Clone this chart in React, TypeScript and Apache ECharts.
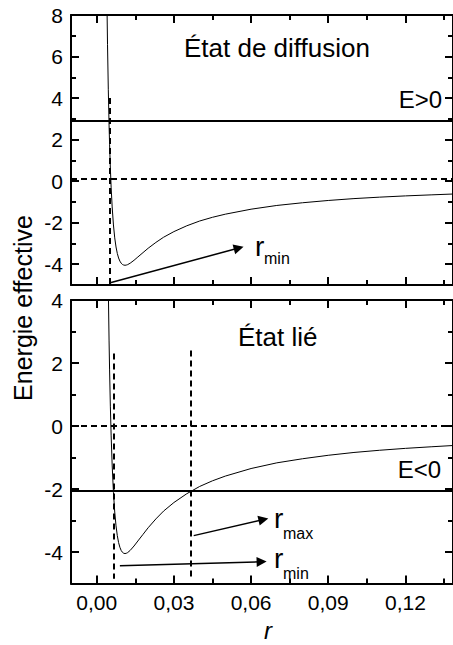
import React, { useEffect, useRef } from "react";
import * as echarts from "echarts";

// ---- data ----
const rValues = [0.0040, 0.0042, 0.0045, 0.0048, 0.0050, 0.0053, 0.0056, 0.0060, 0.0065, 0.0070, 0.0075, 0.0080, 0.0085, 0.0090, 0.0095, 0.0100, 0.0105, 0.0110, 0.0115, 0.0120, 0.0130, 0.0145, 0.016, 0.018, 0.020, 0.023, 0.026, 0.030, 0.035, 0.040, 0.045, 0.050, 0.060, 0.070, 0.080, 0.090, 0.100, 0.110, 0.120, 0.130, 0.1385];
const energyValues = [8.35, 6.57, 4.40, 2.70, 1.78, 0.63, -0.29, -1.24, -2.11, -2.73, -3.17, -3.48, -3.70, -3.85, -3.95, -4.01, -4.04, -4.05, -4.04, -4.02, -3.95, -3.81, -3.65, -3.44, -3.23, -2.95, -2.70, -2.43, -2.15, -1.92, -1.74, -1.59, -1.35, -1.17, -1.04, -0.93, -0.84, -0.77, -0.71, -0.66, -0.62];

const energyPositive = 2.93; // E>0 level
const energyNegative = -2.06; // E<0 level
const zeroLevelTop = 0.12;
const zeroLevelBottom = 0;

const turningTop = [0.0049];
const turningBottom = [0.00645, 0.0365];

const xMajorTicks = [0, 0.03, 0.06, 0.09, 0.12];
const xMinorTicks = [0.015, 0.045, 0.075, 0.105, 0.135];
const yTopMajorTicks = [-4, -2, 0, 2, 4, 6, 8];
const yTopMinorTicks = [-5, -3, -1, 1, 3, 5, 7];
const yBottomMajorTicks = [-4, -2, 0, 2, 4];
const yBottomMinorTicks = [-5, -3, -1, 1, 3];

const arrowTop = [[0.0049, -4.9], [0.0552, -3.22]];
const arrowRmax = [[0.0377, -3.48], [0.0648, -2.97]];
const arrowRminBottom = [[0.0090, -4.44], [0.0641, -4.31]];

const X_MIN = -0.01;
const X_MAX = 0.1385;
const FONT = '"Liberation Sans", Arial, Helvetica, sans-serif';

function xAxes(gridIndex: number, showLabels: boolean) {
  const base = {
    type: "value",
    gridIndex,
    min: X_MIN,
    max: X_MAX,
    splitLine: { show: false },
    axisLabel: { show: false },
  };
  const tickStyle = { color: "#000", width: 2 };
  return [
    {
      ...base,
      position: "bottom",
      axisLine: { show: true, onZero: false, lineStyle: { color: "#000", width: 2 } },
      axisTick: { show: true, inside: true, length: 8, customValues: xMajorTicks, lineStyle: tickStyle },
      axisLabel: showLabels
        ? {
            show: true,
            customValues: xMajorTicks,
            formatter: (v: number) => v.toFixed(2).replace(".", ","),
            fontSize: 21,
            color: "#000",
            fontFamily: FONT,
            margin: 8,
          }
        : { show: false },
    },
    {
      ...base,
      position: "bottom",
      axisLine: { show: false, onZero: false },
      axisTick: { show: true, inside: true, length: 5, customValues: xMinorTicks, lineStyle: tickStyle },
    },
    {
      ...base,
      position: "top",
      axisLine: { show: true, onZero: false, lineStyle: { color: "#000", width: 2 } },
      axisTick: { show: true, inside: true, length: 8, customValues: xMajorTicks, lineStyle: tickStyle },
    },
    {
      ...base,
      position: "top",
      axisLine: { show: false, onZero: false },
      axisTick: { show: true, inside: true, length: 5, customValues: xMinorTicks, lineStyle: tickStyle },
    },
  ];
}

function yAxes(gridIndex: number, min: number, max: number, major: number[], minor: number[]) {
  const base = {
    type: "value",
    gridIndex,
    min,
    max,
    splitLine: { show: false },
    axisLabel: { show: false },
  };
  const tickStyle = { color: "#000", width: 2 };
  return [
    {
      ...base,
      position: "left",
      axisLine: { show: true, onZero: false, lineStyle: { color: "#000", width: 2 } },
      axisTick: { show: true, inside: true, length: 8, customValues: major, lineStyle: tickStyle },
      axisLabel: {
        show: true,
        customValues: major,
        fontSize: 21,
        color: "#000",
        fontFamily: FONT,
        margin: 8,
      },
    },
    {
      ...base,
      position: "left",
      axisLine: { show: false, onZero: false },
      axisTick: { show: true, inside: true, length: 5, customValues: minor, lineStyle: tickStyle },
    },
    {
      ...base,
      position: "right",
      axisLine: { show: true, onZero: false, lineStyle: { color: "#000", width: 2 } },
      axisTick: { show: true, inside: true, length: 8, customValues: major, lineStyle: tickStyle },
    },
    {
      ...base,
      position: "right",
      axisLine: { show: false, onZero: false },
      axisTick: { show: true, inside: true, length: 5, customValues: minor, lineStyle: tickStyle },
    },
  ];
}

function txt(x: number, y: number, text: string, size: number, extra: any = {}) {
  return {
    type: "text",
    x,
    y,
    silent: true,
    rotation: extra.rotation || 0,
    style: {
      text,
      fontSize: size,
      fontFamily: FONT,
      fontStyle: extra.italic ? "italic" : "normal",
      fill: "#000",
      align: extra.align || "left",
      verticalAlign: "middle",
    },
  };
}

const dashed = { color: "#000", width: 2, type: [6, 4] as any };
const solid = { color: "#000", width: 2, type: "solid" };

function curveData() {
  return rValues.map((r, i) => [r, energyValues[i]]);
}

export default function App() {
  const ref = useRef<HTMLDivElement>(null);
  useEffect(() => {
    if (!ref.current) return;
    const chart = echarts.init(ref.current, null, { renderer: "svg" });
    const option: any = {
      animation: false,
      grid: [
        { left: 71, top: 15, width: 385, height: 270 },
        { left: 71, top: 300, width: 385, height: 283.5 },
      ],
      xAxis: [...xAxes(0, false), ...xAxes(1, true)],
      yAxis: [
        ...yAxes(0, -5, 8, yTopMajorTicks, yTopMinorTicks),
        ...yAxes(1, -5, 4, yBottomMajorTicks, yBottomMinorTicks),
      ],
      series: [
        {
          type: "line",
          xAxisIndex: 0,
          yAxisIndex: 0,
          data: curveData(),
          symbol: "none",
          showSymbol: false,
          silent: true,
          clip: true,
          lineStyle: { color: "#000", width: 1 },
          markLine: {
            silent: true,
            symbol: "none",
            label: { show: false },
            lineStyle: dashed,
            data: [
              { yAxis: energyPositive, lineStyle: solid },
              { yAxis: zeroLevelTop, lineStyle: dashed },
              [{ coord: [turningTop[0], 4], lineStyle: dashed }, { coord: [turningTop[0], -5] }],
            ],
          },
        },
        {
          type: "line",
          xAxisIndex: 0,
          yAxisIndex: 0,
          data: [],
          silent: true,
          markLine: {
            silent: true,
            symbol: ["none", "triangle"],
            symbolSize: 10,
            label: { show: false },
            lineStyle: { color: "#000", width: 1.5, type: "solid" },
            data: [[{ coord: arrowTop[0] }, { coord: arrowTop[1] }]],
          },
        },
        {
          type: "line",
          xAxisIndex: 4,
          yAxisIndex: 4,
          data: curveData(),
          symbol: "none",
          showSymbol: false,
          silent: true,
          clip: true,
          lineStyle: { color: "#000", width: 1 },
          markLine: {
            silent: true,
            symbol: "none",
            label: { show: false },
            lineStyle: dashed,
            data: [
              { yAxis: energyNegative, lineStyle: solid },
              { yAxis: zeroLevelBottom, lineStyle: dashed },
              [{ coord: [turningBottom[0], 2.3], lineStyle: dashed }, { coord: [turningBottom[0], -4.85] }],
              [{ coord: [turningBottom[1], 2.4], lineStyle: dashed }, { coord: [turningBottom[1], -4.85] }],
            ],
          },
        },
        {
          type: "line",
          xAxisIndex: 4,
          yAxisIndex: 4,
          data: [],
          silent: true,
          markLine: {
            silent: true,
            symbol: ["none", "triangle"],
            symbolSize: 10,
            label: { show: false },
            lineStyle: { color: "#000", width: 1.5, type: "solid" },
            data: [
              [{ coord: arrowRmax[0] }, { coord: arrowRmax[1] }],
              [{ coord: arrowRminBottom[0] }, { coord: arrowRminBottom[1] }],
            ],
          },
        },
      ],
      graphic: [
        txt(184, 48, "État de diffusion", 26),
        txt(238, 337, "État lié", 26),
        txt(442, 99.5, "E>0", 24, { align: "right" }),
        txt(441, 469.5, "E<0", 24, { align: "right" }),
        txt(255, 246, "r", 28),
        txt(264, 258.5, "min", 16),
        txt(274, 518, "r", 28),
        txt(283, 533, "max", 16),
        txt(274, 558, "r", 28),
        txt(283, 573, "min", 16),
        txt(23, 308, "Energie effective", 25, { rotation: Math.PI / 2, align: "center" }),
        txt(268, 630, "r", 24, { italic: true, align: "center" }),
      ],
    };
    chart.setOption(option);
    return () => chart.dispose();
  }, []);
  return (
    <div
      ref={ref}
      style={{ position: "absolute", left: 0, top: 0, width: 453, height: 645, background: "#fff" }}
    />
  );
}
